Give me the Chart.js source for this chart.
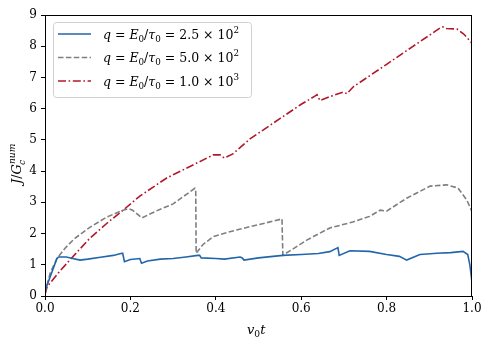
<!DOCTYPE html>
<html>
<head>
<meta charset="utf-8">
<script src="https://cdn.jsdelivr.net/npm/chart.js@4/dist/chart.umd.min.js"></script>
<style>
  html, body { margin: 0; padding: 0; background: #fff; }
  canvas { display: block; }
</style>
</head>
<body>
<canvas id="chart" width="491" height="347"></canvas>
<script>
const SERIF = '"DejaVu Serif", "Liberation Serif", serif';

// q = 2.5e2 (blue, solid)
const blueX = [0, 0.005, 0.028, 0.032, 0.05, 0.06, 0.082, 0.1, 0.13, 0.16, 0.18, 0.182, 0.186, 0.2, 0.222, 0.226, 0.24, 0.27, 0.3, 0.33, 0.358, 0.362, 0.366, 0.4, 0.42, 0.457, 0.462, 0.466, 0.5, 0.557, 0.6, 0.64, 0.667, 0.686, 0.689, 0.714, 0.76, 0.8, 0.83, 0.847, 0.878, 0.918, 0.95, 0.979, 0.99, 0.995, 1.0];
const blueY = [0.15, 0.35, 1.2, 1.25, 1.25, 1.22, 1.15, 1.18, 1.24, 1.3, 1.37, 1.37, 1.1, 1.17, 1.2, 1.05, 1.12, 1.18, 1.2, 1.25, 1.3, 1.3, 1.22, 1.2, 1.18, 1.25, 1.22, 1.15, 1.22, 1.3, 1.33, 1.36, 1.42, 1.55, 1.3, 1.45, 1.43, 1.33, 1.27, 1.15, 1.33, 1.37, 1.39, 1.43, 1.33, 1.0, 0.45];

// q = 5.0e2 (gray, dashed)
const grayX = [0, 0.012, 0.028, 0.047, 0.07, 0.105, 0.145, 0.183, 0.195, 0.205, 0.227, 0.26, 0.3, 0.351, 0.353, 0.354, 0.37, 0.394, 0.43, 0.48, 0.52, 0.555, 0.557, 0.58, 0.613, 0.667, 0.721, 0.76, 0.785, 0.8, 0.848, 0.902, 0.941, 0.967, 0.988, 1.0];
const grayY = [0.1, 0.73, 1.2, 1.53, 1.85, 2.2, 2.53, 2.75, 2.8, 2.75, 2.5, 2.72, 2.95, 3.45, 3.4, 1.37, 1.65, 1.9, 2.05, 2.22, 2.35, 2.47, 1.31, 1.5, 1.79, 2.18, 2.37, 2.55, 2.75, 2.72, 3.14, 3.52, 3.56, 3.46, 3.07, 2.7];

// q = 1.0e3 (red, dash-dot)
const redX = [0, 0.005, 0.035, 0.058, 0.105, 0.145, 0.183, 0.222, 0.285, 0.35, 0.394, 0.41, 0.42, 0.44, 0.48, 0.55, 0.6, 0.632, 0.637, 0.644, 0.67, 0.698, 0.707, 0.722, 0.8, 0.86, 0.925, 0.932, 0.94, 0.965, 0.98, 1.0];
const redY = [0.05, 0.3, 0.8, 1.15, 1.85, 2.33, 2.75, 3.2, 3.78, 4.22, 4.52, 4.52, 4.42, 4.55, 5.03, 5.68, 6.14, 6.4, 6.45, 6.26, 6.4, 6.53, 6.48, 6.7, 7.42, 7.98, 8.58, 8.62, 8.57, 8.55, 8.4, 8.1];

const seriesLabels = ["2.5 × 10", "5.0 × 10", "1.0 × 10"];
const seriesExp = ["2", "2", "3"];
const colors = ["#2166ac", "#7f7f7f", "#b2182b"];
const dashes = [[], [5.5, 2.4], [8, 2.6, 1.6, 2.6]];

const xTicks = [0, 0.2, 0.4, 0.6, 0.8, 1.0];

const pts = (xs, ys) => xs.map((x, i) => ({ x: x, y: ys[i] }));

// draw text made of runs (italic / sub / sup)
function drawRuns(ctx, x, y, runs, size) {
  ctx.textBaseline = "alphabetic";
  ctx.textAlign = "left";
  runs.forEach(r => {
    const s = r.small ? size * 0.7 : size;
    ctx.font = (r.it ? "italic " : "") + s + "px " + SERIF;
    ctx.fillText(r.t, x, y + (r.dy || 0));
    x += ctx.measureText(r.t).width + (r.gap || 0);
  });
  return x;
}

const decor = {
  id: "decor",
  afterDraw(chart) {
    const ctx = chart.ctx;
    const a = chart.chartArea;
    ctx.save();
    // frame
    ctx.strokeStyle = "#000";
    ctx.lineWidth = 1;
    ctx.strokeRect(a.left + 0.5, a.top + 0.5, a.right - a.left - 1, a.bottom - a.top);

    // legend box
    const bx = 53.5, by = 22.5, bw = 198, bh = 75, rr = 3;
    ctx.beginPath();
    ctx.roundRect(bx, by, bw, bh, rr);
    ctx.fillStyle = "rgba(255,255,255,0.8)";
    ctx.fill();
    ctx.strokeStyle = "#d0d0d0";
    ctx.stroke();

    const rowsY = [34, 57.5, 81];
    rowsY.forEach((ry, i) => {
      ctx.strokeStyle = colors[i];
      ctx.lineWidth = 1.6;
      ctx.setLineDash(dashes[i]);
      ctx.beginPath();
      ctx.moveTo(58, ry);
      ctx.lineTo(91, ry);
      ctx.stroke();
      ctx.setLineDash([]);
      ctx.fillStyle = "#000";
      drawRuns(ctx, 103, ry + 4.5, [
        { t: "q", it: true },
        { t: " = " },
        { t: "E", it: true },
        { t: "0", small: true, dy: 3 },
        { t: "/" },
        { t: "τ", it: true },
        { t: "0", small: true, dy: 3 },
        { t: " = " + seriesLabels[i] },
        { t: seriesExp[i], small: true, dy: -6 }
      ], 12.5);
    });

    // x title
    ctx.fillStyle = "#000";
    drawRuns(ctx, 247, 334, [
      { t: "v", it: true },
      { t: "0", small: true, dy: 3 },
      { t: "t", it: true }
    ], 13);

    // y title
    ctx.translate(21, 184);
    ctx.rotate(-Math.PI / 2);
    const gx = drawRuns(ctx, 0, 0, [
      { t: "J", it: true },
      { t: "/" },
      { t: "G", it: true }
    ], 13);
    ctx.font = "italic " + (13 * 0.7) + "px " + SERIF;
    ctx.fillText("c", gx - 1, 3.5);
    ctx.fillText("num", gx, -6);
    ctx.restore();
  }
};

new Chart(document.getElementById("chart"), {
  type: "line",
  data: {
    datasets: [
      { data: pts(blueX, blueY), borderColor: colors[0], borderDash: dashes[0] },
      { data: pts(grayX, grayY), borderColor: colors[1], borderDash: dashes[1] },
      { data: pts(redX, redY), borderColor: colors[2], borderDash: dashes[2] }
    ]
  },
  options: {
    responsive: false,
    animation: false,
    devicePixelRatio: 1,
    layout: { padding: { left: 0, top: 15, right: 19, bottom: 0 } },
    elements: {
      point: { radius: 0 },
      line: { borderWidth: 1.6, tension: 0, fill: false }
    },
    plugins: { legend: { display: false }, tooltip: { enabled: false } },
    scales: {
      x: {
        type: "linear",
        min: 0,
        max: 1,
        afterFit: s => { s.height = 51; },
        afterBuildTicks: s => { s.ticks = xTicks.map(v => ({ value: v })); },
        grid: { drawOnChartArea: false, drawTicks: true, tickLength: 4, color: "#000" },
        border: { color: "#000", width: 1 },
        ticks: {
          color: "#000",
          padding: 2,
          maxRotation: 0,
          font: { family: SERIF, size: 12 },
          callback: v => v.toFixed(1)
        }
      },
      y: {
        min: 0,
        max: 9,
        afterFit: s => { s.width = 45; },
        grid: { drawOnChartArea: false, drawTicks: true, tickLength: 4, color: "#000" },
        border: { color: "#000", width: 1 },
        ticks: {
          stepSize: 1,
          color: "#000",
          padding: 4,
          font: { family: SERIF, size: 12 }
        }
      }
    }
  },
  plugins: [decor]
});
</script>
</body>
</html>
